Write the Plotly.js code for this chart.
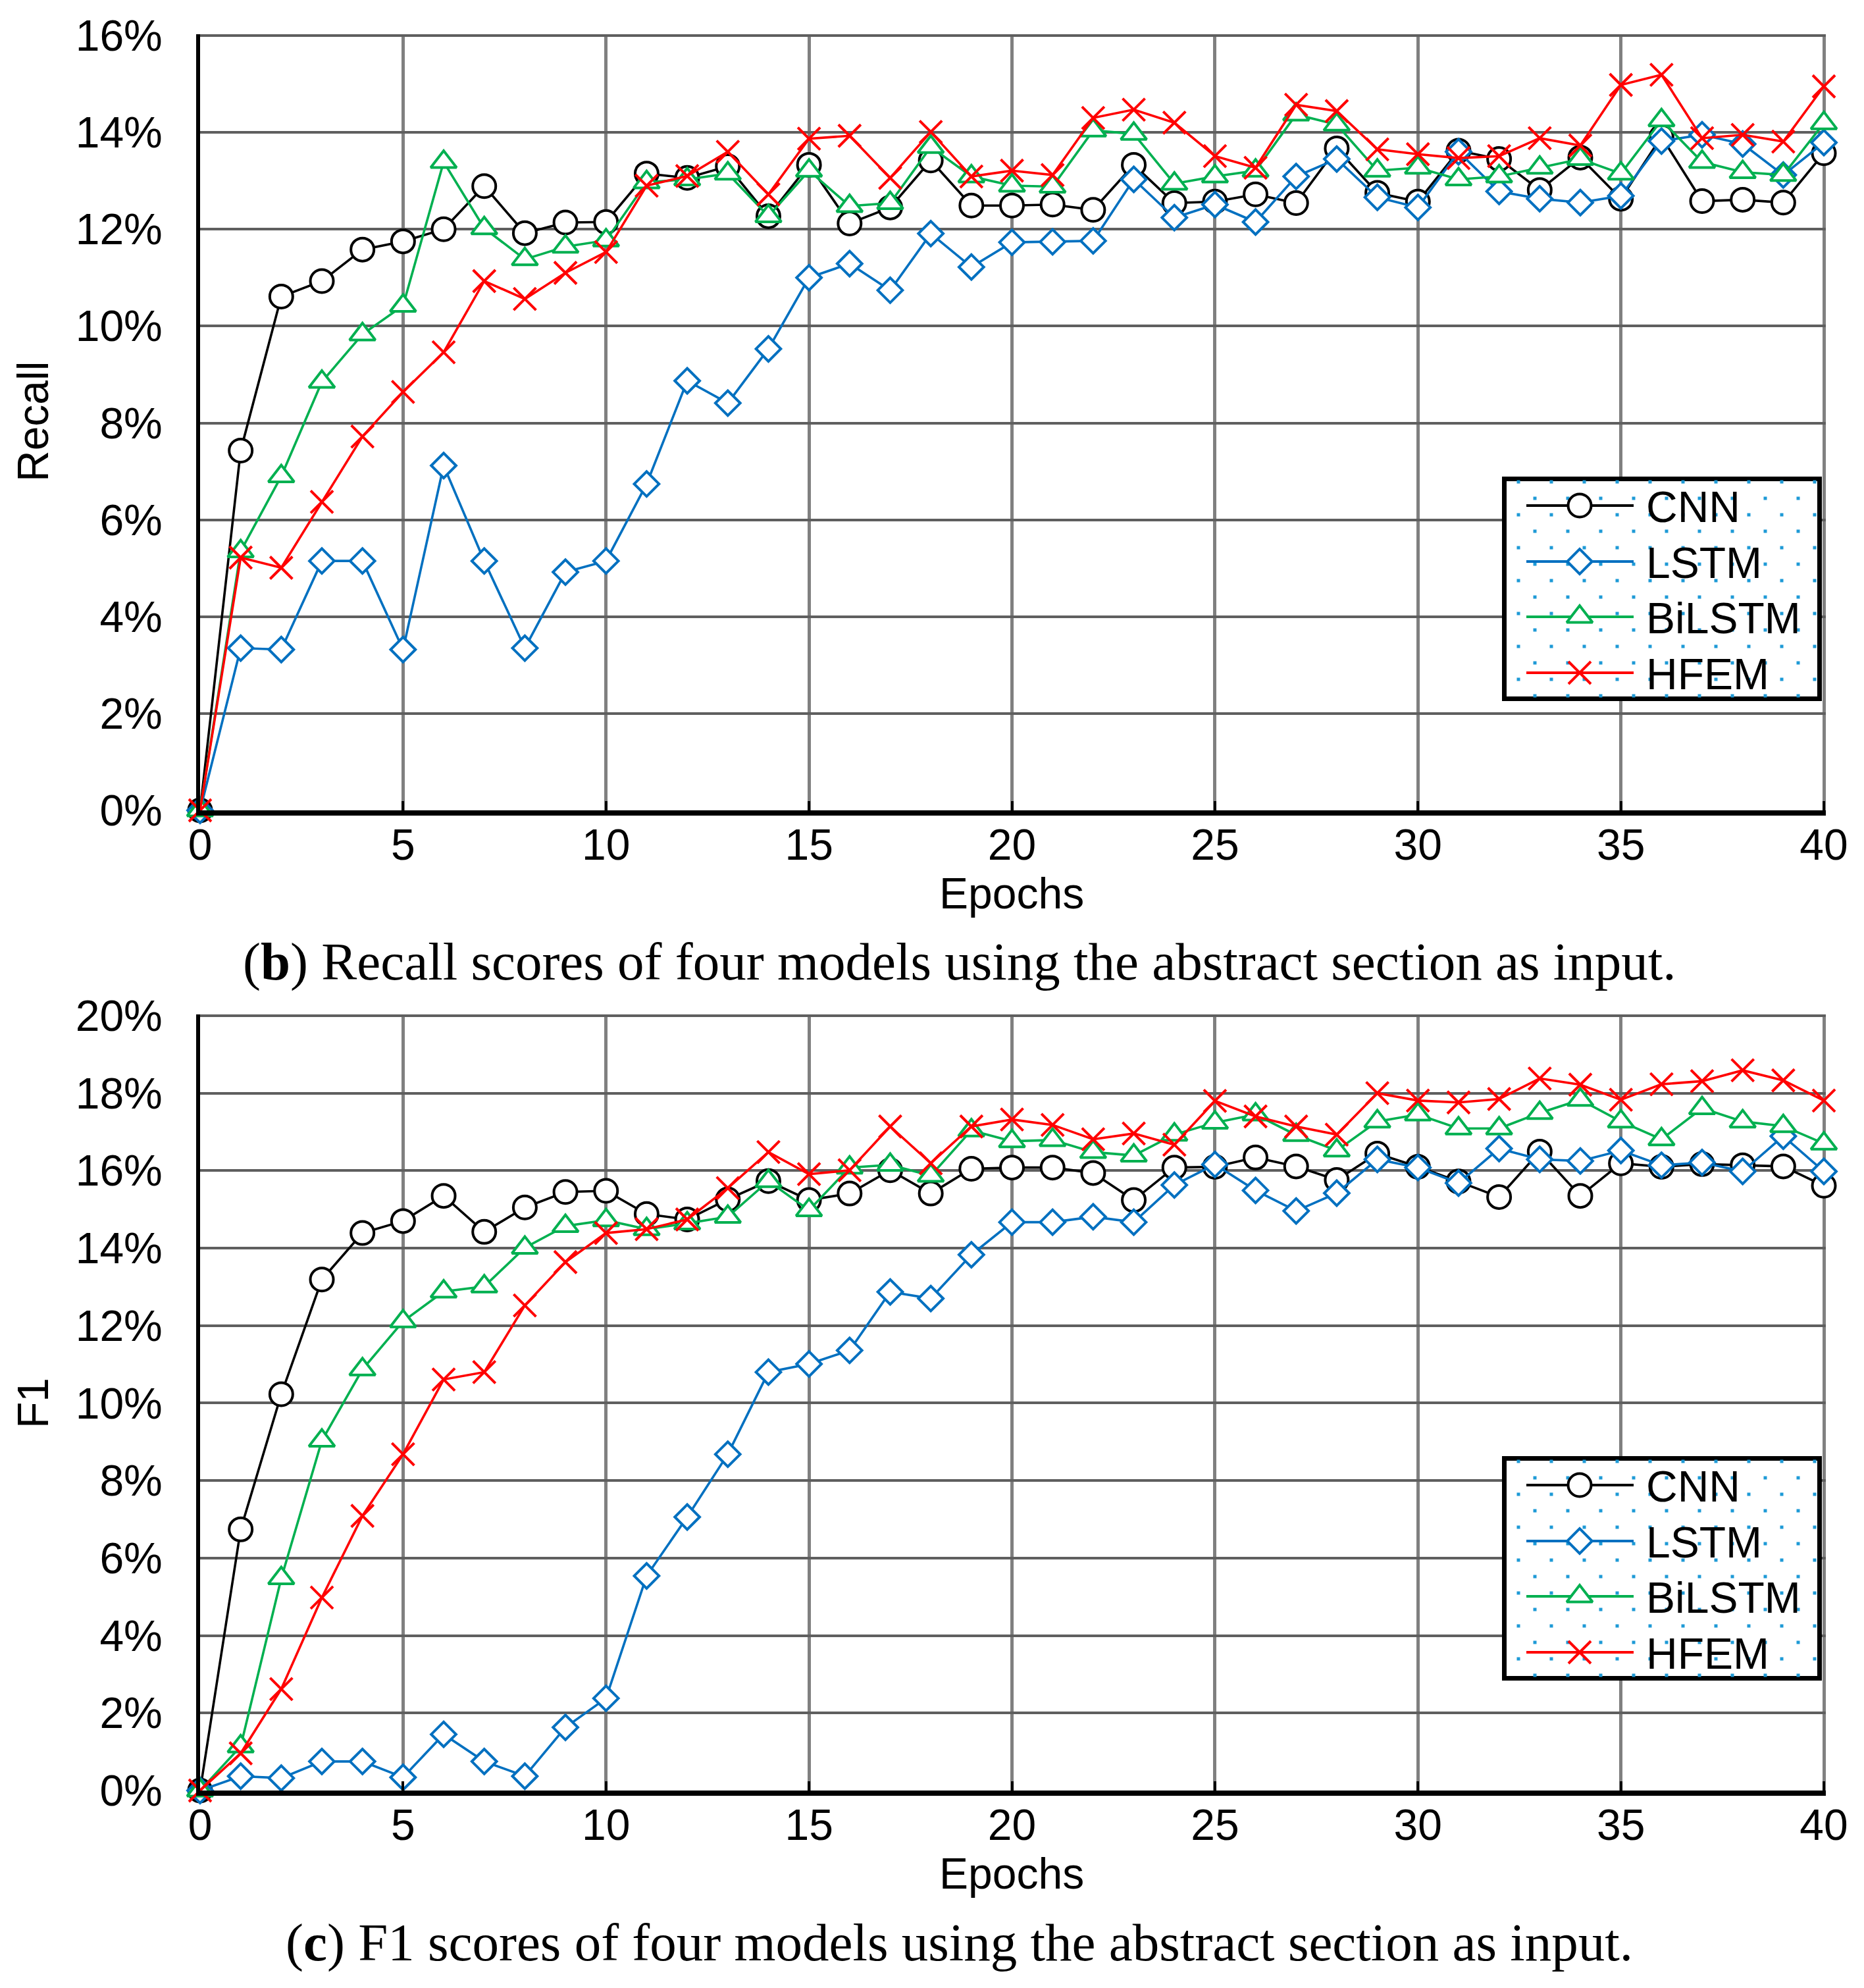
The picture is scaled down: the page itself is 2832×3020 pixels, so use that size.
<!DOCTYPE html>
<html>
<head>
<meta charset="utf-8">
<script src="https://cdn.plot.ly/plotly-3.0.1.min.js"></script>
<style>
  html, body { margin: 0; padding: 0; background: #fff; }
  #chart { width: 2832px; height: 3020px; }
</style>
</head>
<body>
<div id="chart"></div>
<script>
// Epochs on the x axis, scores in percent
var epochs = [];
for (var e = 0; e <= 40; e++) epochs.push(e);

var modelNames = ['CNN', 'LSTM', 'BiLSTM', 'HFEM'];

// (b) Recall
var recallCNN = [0, 7.43, 10.61, 10.93, 11.58, 11.75, 12.0, 12.89, 11.92, 12.14, 12.15,
    13.15, 13.06, 13.3, 12.27, 13.33, 12.12, 12.45, 13.42, 12.49, 12.49,
    12.51, 12.4, 13.33, 12.54, 12.57, 12.72, 12.54, 13.67, 12.75, 12.57,
    13.62, 13.45, 12.81, 13.48, 12.63, 13.91, 12.58, 12.61, 12.55, 13.57];
var recallLSTM = [0, 3.35, 3.32, 5.15, 5.15, 3.32, 7.12, 5.15, 3.35, 4.92, 5.15,
    6.74, 8.87, 8.41, 9.53, 11.0, 11.29, 10.74, 11.91, 11.22, 11.73,
    11.74, 11.76, 13.03, 12.24, 12.51, 12.15, 13.09, 13.45, 12.66, 12.45,
    13.6, 12.78, 12.63, 12.55, 12.69, 13.82, 13.95, 13.76, 13.12, 13.79];
var recallBiLSTM = [0, 5.35, 6.9, 8.85, 9.83, 10.42, 13.39, 12.02, 11.38, 11.64, 11.77,
    12.97, 13.03, 13.15, 12.27, 13.21, 12.48, 12.54, 13.7, 13.09, 12.9,
    12.88, 14.04, 13.97, 12.94, 13.09, 13.21, 14.37, 14.16, 13.21, 13.27,
    13.03, 13.09, 13.27, 13.45, 13.15, 14.25, 13.39, 13.18, 13.12, 14.19];
var recallHFEM = [0, 5.22, 5.01, 6.37, 7.72, 8.64, 9.46, 10.93, 10.56, 11.1, 11.53,
    12.9, 13.1, 13.6, 12.72, 13.87, 13.93, 13.06, 14.01, 13.09, 13.21,
    13.12, 14.3, 14.47, 14.2, 13.51, 13.27, 14.57, 14.44, 13.65, 13.55,
    13.47, 13.51, 13.88, 13.73, 14.98, 15.19, 13.88, 13.95, 13.81, 14.95];

// (c) F1
var f1CNN = [0, 6.74, 10.23, 13.19, 14.39, 14.7, 15.35, 14.42, 15.05, 15.45, 15.48,
    14.88, 14.74, 15.26, 15.73, 15.24, 15.41, 16.01, 15.41, 16.05, 16.08,
    16.08, 15.94, 15.24, 16.08, 16.1, 16.34, 16.11, 15.76, 16.44, 16.1,
    15.72, 15.32, 16.49, 15.35, 16.19, 16.1, 16.17, 16.14, 16.11, 15.61];
var f1LSTM = [0, 0.37, 0.32, 0.75, 0.75, 0.34, 1.45, 0.75, 0.37, 1.63, 2.38,
    5.54, 7.06, 8.68, 10.8, 11.01, 11.36, 12.87, 12.7, 13.83, 14.67,
    14.67, 14.81, 14.67, 15.63, 16.16, 15.49, 14.96, 15.42, 16.29, 16.08,
    15.68, 16.57, 16.29, 16.25, 16.52, 16.14, 16.21, 15.98, 16.89, 15.98];
var f1BiLSTM = [0, 1.14, 5.48, 9.03, 10.87, 12.11, 12.88, 13.01, 14.01, 14.57, 14.72,
    14.49, 14.64, 14.81, 15.73, 14.98, 16.08, 16.15, 15.87, 17.04, 16.76,
    16.79, 16.48, 16.39, 16.93, 17.24, 17.45, 16.92, 16.52, 17.27, 17.45,
    17.09, 17.09, 17.49, 17.83, 17.27, 16.81, 17.61, 17.27, 17.15, 16.7];
var f1HFEM = [0, 0.96, 2.62, 4.98, 7.09, 8.68, 10.61, 10.8, 12.52, 13.64, 14.39,
    14.49, 14.74, 15.55, 16.48, 15.91, 16.01, 17.14, 16.19, 17.14, 17.32,
    17.18, 16.81, 16.96, 16.67, 17.8, 17.4, 17.14, 16.93, 18.0, 17.81,
    17.76, 17.85, 18.38, 18.22, 17.83, 18.23, 18.31, 18.59, 18.33, 17.81];

var xTicks = [0, 5, 10, 15, 20, 25, 30, 35, 40];

var recallSeries = [recallCNN, recallLSTM, recallBiLSTM, recallHFEM];
var f1Series = [f1CNN, f1LSTM, f1BiLSTM, f1HFEM];

// marker styles, same order as modelNames
var styles = [
    { color: '#000000', symbol: 'circle', size: 35, fill: '#ffffff' },
    { color: '#0070C0', symbol: 'diamond', size: 29, fill: '#ffffff' },
    { color: '#00B050', symbol: 'triangle-up', size: 34, fill: '#ffffff' },
    { color: '#FF0000', symbol: 'x-thin-open', size: 34, fill: '#FF0000' }
];

function markerFor(st) {
    return {
        symbol: st.symbol,
        size: st.size,
        color: st.fill,
        line: { color: st.color, width: 4 }
    };
}

var traces = [];

function addChart(series, xa, ya) {
    for (var i = 0; i < series.length; i++) {
        traces.push({
            name: modelNames[i],
            x: epochs,
            y: series[i],
            xaxis: xa,
            yaxis: ya,
            type: 'scatter',
            mode: 'lines+markers',
            cliponaxis: false,
            showlegend: false,
            line: { color: styles[i].color, width: 3.6 },
            marker: markerFor(styles[i])
        });
    }
}
addChart(recallSeries, 'x', 'y');
addChart(f1Series, 'x2', 'y2');

// hand made legend box (Plotly caps legend marker size at 16px)
var boxW = 486, boxH = 341;
var rowY = [44, 129, 213, 298];

function addLegend(xa, ya) {
    // light blue dotted fill of the box
    var dx = [], dy = [];
    for (var i = 1; i < 20; i++) {
        for (var j = 0; j < 14; j++) {
            if ((i + j) % 2 === 1) { dx.push(25 * i); dy.push(8 + 25 * j); }
        }
    }
    traces.push({
        x: dx, y: dy, xaxis: xa, yaxis: ya, type: 'scatter', mode: 'markers',
        showlegend: false, hoverinfo: 'skip', cliponaxis: false,
        marker: { symbol: 'square', size: 5, color: '#1E9AD6', line: { width: 0 } }
    });
    for (var k = 0; k < modelNames.length; k++) {
        traces.push({
            x: [37, 118, 200], y: [rowY[k], rowY[k], rowY[k]],
            xaxis: xa, yaxis: ya, type: 'scatter', mode: 'lines+markers',
            showlegend: false, hoverinfo: 'skip', cliponaxis: false,
            line: { color: styles[k].color, width: 3.8 },
            marker: Object.assign(markerFor(styles[k]), { opacity: [0, 1, 0] })
        });
    }
}
addLegend('x3', 'y3');
addLegend('x4', 'y4');

var tickFont = { family: 'Liberation Sans, Arial, sans-serif', size: 66, color: '#000' };

function xAxis(domainAnchor) {
    return {
        domain: [0.10734, 0.97956],
        anchor: domainAnchor,
        range: [0, 40.05],
        tickmode: 'array',
        tickvals: xTicks,
        ticktext: xTicks.map(String),
        ticks: 'inside',
        ticklen: 14,
        tickwidth: 4,
        tickcolor: '#000',
        ticklabelstandoff: -12,
        tickfont: tickFont,
        showgrid: true,
        gridcolor: '#808080',
        gridwidth: 5,
        zeroline: false,
        showline: true,
        linecolor: '#000',
        linewidth: 8,
        fixedrange: true
    };
}

function yAxis(domain, top, anchor) {
    return {
        domain: domain,
        anchor: anchor,
        range: [0, top],
        dtick: 2,
        tick0: 0,
        ticksuffix: '%',
        ticks: '',
        ticklabelstandoff: 38,
        tickfont: tickFont,
        showgrid: true,
        gridcolor: '#5f5f5f',
        gridwidth: 4,
        zeroline: false,
        showline: true,
        linecolor: '#000',
        linewidth: 6,
        fixedrange: true
    };
}

function boxAxisX() {
    return { domain: [0.80579, 0.97740], range: [0, boxW], visible: false, fixedrange: true };
}
function boxAxisY(domain, anchor) {
    return { domain: domain, anchor: anchor, range: [boxH, 0], visible: false, fixedrange: true };
}

var annotations = [];
function legendText(xa, ya) {
    for (var k = 0; k < modelNames.length; k++) {
        annotations.push({
            text: modelNames[k], xref: xa, yref: ya, x: 217, y: rowY[k] + 2,
            xanchor: 'left', yanchor: 'middle', showarrow: false, font: tickFont
        });
    }
}
legendText('x3', 'y3');
legendText('x4', 'y4');

// axis titles placed as paper annotations
function axisTitle(text, x, y, angle) {
    annotations.push({
        text: text, xref: 'paper', yref: 'paper', x: x, y: y, textangle: angle,
        xanchor: 'center', yanchor: 'middle', showarrow: false, font: tickFont
    });
}
axisTitle('Epochs', 0.54273, 0.55066, 0);
axisTitle('Epochs', 0.54273, 0.05761, 0);
axisTitle('Recall', 0.01766, 0.78775, -90);
axisTitle('F1', 0.01766, 0.29404, -90);

var captionFont = { family: 'Liberation Serif, Times New Roman, serif', size: 81, color: '#000' };
annotations.push({
    text: '(<b>b</b>) Recall scores of four models using the abstract section as input.',
    xref: 'paper', yref: 'paper', x: 0.5148, y: 0.5162,
    xanchor: 'center', yanchor: 'middle', showarrow: false, font: captionFont
});
annotations.push({
    text: '(<b>c</b>) F1 scores of four models using the abstract section as input.',
    xref: 'paper', yref: 'paper', x: 0.5148, y: 0.0228,
    xanchor: 'center', yanchor: 'middle', showarrow: false, font: captionFont
});

function boxShape(xa, ya) {
    return {
        type: 'rect', xref: xa, yref: ya, x0: 3.5, x1: boxW - 3.5, y0: 3.5, y1: boxH - 3.5,
        fillcolor: '#ffffff', line: { color: '#000', width: 7 }, layer: 'below'
    };
}

var layout = {
    width: 2832,
    height: 3020,
    margin: { l: 0, r: 0, t: 0, b: 0 },
    paper_bgcolor: '#ffffff',
    plot_bgcolor: 'rgba(0,0,0,0)',
    showlegend: false,
    xaxis: xAxis('y'),
    yaxis: yAxis([0.59238, 0.98285], 16.03, 'x'),
    xaxis2: xAxis('y2'),
    yaxis2: yAxis([0.09934, 0.48967], 20.03, 'x2'),
    xaxis3: Object.assign(boxAxisX(), { anchor: 'y3' }),
    yaxis3: boxAxisY([0.64735, 0.76026], 'x3'),
    xaxis4: Object.assign(boxAxisX(), { anchor: 'y4' }),
    yaxis4: boxAxisY([0.15464, 0.26755], 'x4'),
    shapes: [boxShape('x3', 'y3'), boxShape('x4', 'y4')],
    annotations: annotations
};

Plotly.newPlot('chart', traces, layout, { staticPlot: true });
</script>
</body>
</html>
